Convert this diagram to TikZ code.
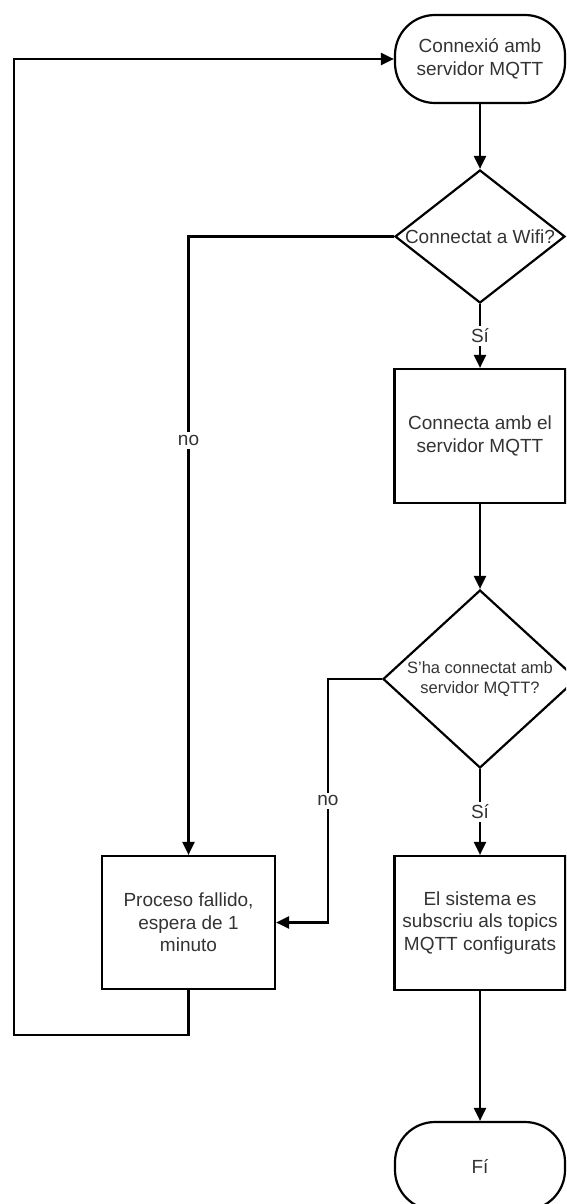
\documentclass[tikz,border=0pt]{standalone}
\usepackage{fontspec}
\setmainfont{Liberation Sans}
\usetikzlibrary{shapes.geometric,arrows.meta,calc}
\definecolor{txt}{HTML}{333333}
\begin{document}
\begin{tikzpicture}[x=1pt,y=-1pt,
  line width=2.2pt,
  every node/.style={text=txt, font=\fontsize{19}{22.5}\selectfont},
  term/.style={draw=black, rounded corners=40pt, minimum width=170pt, minimum height=88pt, align=center, inner sep=0pt},
  proc/.style={draw=black, rectangle, minimum width=171pt, minimum height=134pt, align=center, inner sep=0pt},
  dia/.style={draw=black, diamond, inner sep=0pt, align=center},
  arr/.style={draw=black, -{Triangle[length=13pt,width=12pt]}},
  lab/.style={fill=white, inner sep=3pt}]
\clip (0,0) rectangle (566,1204);
\node[term] (start) at (480,59) {Connexió amb\\servidor MQTT};
\node[dia, minimum width=170pt, minimum height=133pt] (d1) at (480,236.5) {\makebox[0pt]{Connectat a Wifi?}};
\node[proc] (b2) at (480,436) {Connecta amb el\\servidor MQTT};
\node[dia, minimum width=194pt, minimum height=178pt] (d2) at (480,679) {\makebox[0pt]{\fontsize{16.5}{20}\selectfont\begin{tabular}{@{}c@{}}S'ha connectat amb\\servidor MQTT?\end{tabular}}};
\node[proc, minimum width=173pt, minimum height=133pt] (b3) at (188.5,922.5) {Proceso fallido,\\espera de 1\\minuto};
\node[proc] (b4) at (480,923) {El sistema es\\subscriu als topics\\MQTT configurats};
\node[term] (fi) at (480,1166) {Fí};
\draw[arr] (start.south) -- (d1.north);
\draw[arr] (d1.south) -- node[lab]{Sí} (b2.north);
\draw[arr] (b2.south) -- (d2.north);
\draw[arr] (d2.south) -- node[lab]{Sí} (b4.north);
\draw[arr] (b4.south) -- (fi.north);
\draw[arr] (d1.west) -| node[lab, pos=0.665]{no} (b3.north);
\draw[arr] (d2.west) -- ++(-54,0) |- node[lab, pos=0.25]{no} (b3.east);
\draw[arr] (b3.south) -- ++(0,45) -| ($(start.west)+(-380,0)$) -- (start.west);
\end{tikzpicture}
\end{document}
